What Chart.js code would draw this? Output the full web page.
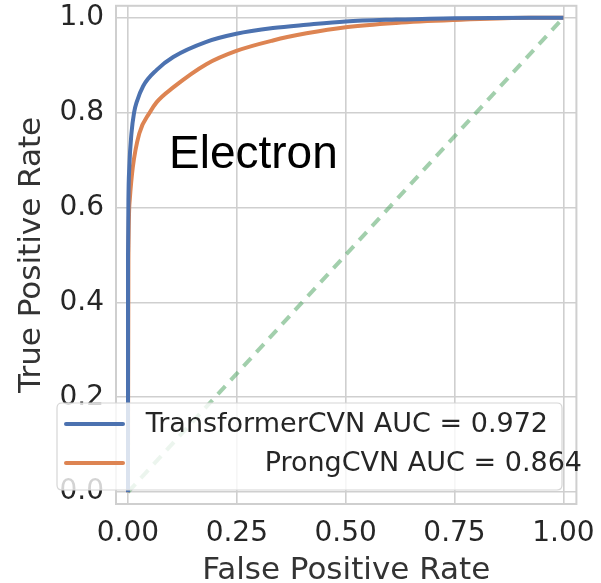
<!DOCTYPE html>
<html>
<head>
<meta charset="utf-8">
<script src="https://cdn.jsdelivr.net/npm/chart.js@4/dist/chart.umd.min.js"></script>
<style>
html,body{margin:0;padding:0;background:#fff;overflow:hidden;}
#wrap{width:601px;height:583px;position:relative;overflow:hidden;}
#c{position:absolute;left:0;top:-23px;}
</style>
</head>
<body>
<div id="wrap"><canvas id="c" width="608" height="606"></canvas></div>
<script>
// ---- data ----
const transformerFPR = [0, 0, 0.001, 0.003, 0.008, 0.014, 0.02, 0.035, 0.066, 0.104, 0.18, 0.249, 0.333, 0.41, 0.5, 0.616, 0.75, 1.0];
const transformerTPR = [0, 0.49, 0.615, 0.684, 0.756, 0.8, 0.822, 0.856, 0.89, 0.917, 0.949, 0.966, 0.978, 0.985, 0.992, 0.996, 0.999, 1.0];
const prongFPR = [0, 0.001, 0.004, 0.011, 0.026, 0.05, 0.066, 0.104, 0.18, 0.249, 0.333, 0.41, 0.5, 0.616, 0.75, 0.922, 1.0];
const prongTPR = [0, 0.488, 0.615, 0.684, 0.756, 0.8, 0.822, 0.853, 0.902, 0.930, 0.952, 0.967, 0.980, 0.989, 0.995, 1.0, 1.0];
const diagFPR = [0, 1];
const diagTPR = [0, 1];
const seriesLabels = ["TransformerCVN AUC = 0.972", "ProngCVN AUC = 0.864"];
const xTicks = [0, 0.25, 0.5, 0.75, 1.0];
const yTicks = [0, 0.2, 0.4, 0.6, 0.8, 1.0];
const annotationText = "Electron";

const toPts = (xs, ys) => xs.map((x, i) => ({x: x, y: ys[i]}));

const BLUE = '#4c72b0', ORANGE = '#dd8452', GREEN = 'rgba(85,168,104,0.55)';
const GRID = '#cfcfcf';
const OFF = 23; // canvas vertical offset (canvas y = page y + OFF)

const overlay = {
  id: 'overlay',
  afterDraw(chart) {
    const ctx = chart.ctx, a = chart.chartArea;
    ctx.save();
    // frame
    ctx.strokeStyle = GRID; ctx.lineWidth = 2;
    ctx.strokeRect(a.left, a.top, a.right - a.left, a.bottom - a.top);
    // annotation
    ctx.fillStyle = '#000';
    ctx.font = '46px "Liberation Sans", Arial, sans-serif';
    ctx.textAlign = 'left'; ctx.textBaseline = 'alphabetic';
    ctx.fillText(annotationText, 169, 168 + OFF);
    // legend box
    const bx = 57, by = 403 + OFF, bw = 505, bh = 87, r = 5;
    ctx.beginPath();
    ctx.moveTo(bx + r, by); ctx.lineTo(bx + bw - r, by); ctx.quadraticCurveTo(bx + bw, by, bx + bw, by + r);
    ctx.lineTo(bx + bw, by + bh - r); ctx.quadraticCurveTo(bx + bw, by + bh, bx + bw - r, by + bh);
    ctx.lineTo(bx + r, by + bh); ctx.quadraticCurveTo(bx, by + bh, bx, by + bh - r);
    ctx.lineTo(bx, by + r); ctx.quadraticCurveTo(bx, by, bx + r, by);
    ctx.closePath();
    ctx.fillStyle = 'rgba(255,255,255,0.8)'; ctx.fill();
    ctx.strokeStyle = '#d6d6d6'; ctx.lineWidth = 1.2; ctx.stroke();
    // legend entries
    const ds = chart.data.datasets;
    const rows = [{y: 424 + OFF, right: 548}, {y: 463 + OFF, right: 582}];
    ctx.font = '27px "DejaVu Sans", sans-serif';
    ctx.textAlign = 'right'; ctx.textBaseline = 'middle';
    rows.forEach((row, i) => {
      ctx.strokeStyle = ds[i].borderColor; ctx.lineWidth = 4; ctx.lineCap = 'round';
      ctx.beginPath(); ctx.moveTo(66, row.y); ctx.lineTo(123, row.y); ctx.stroke();
      ctx.fillStyle = '#262626';
      ctx.fillText(ds[i].label, row.right, row.y + 1);
    });
    ctx.restore();
  }
};

new Chart(document.getElementById('c'), {
  type: 'line',
  data: {
    datasets: [
      {label: seriesLabels[0], data: toPts(transformerFPR, transformerTPR), borderColor: BLUE, borderWidth: 4, pointRadius: 0, cubicInterpolationMode: 'monotone', fill: false},
      {label: seriesLabels[1], data: toPts(prongFPR, prongTPR), borderColor: ORANGE, borderWidth: 4, pointRadius: 0, cubicInterpolationMode: 'monotone', fill: false},
      {label: 'diag', data: toPts(diagFPR, diagTPR), borderColor: GREEN, borderWidth: 4, borderDash: [11, 8], pointRadius: 0, fill: false}
    ]
  },
  options: {
    responsive: false,
    animation: false,
    layout: {padding: {top: 5, right: 17, left: 0, bottom: 0}},
    plugins: {legend: {display: false}, tooltip: {enabled: false}},
    scales: {
      x: {
        type: 'linear', min: -0.0275, max: 1.03,
        afterBuildTicks: s => { s.ticks = xTicks.map(v => ({value: v})); },
        afterFit: s => { s.height = 79; },
        grid: {color: GRID, lineWidth: 1.6, drawTicks: false},
        border: {display: false},
        ticks: {color: '#262626', font: {family: 'DejaVu Sans', size: 28}, padding: 13, maxRotation: 0,
                callback: v => v.toFixed(2)},
        title: {display: true, text: 'False Positive Rate', color: '#333', font: {family: 'DejaVu Sans', size: 31}, padding: {top: 6, bottom: -7}}
      },
      y: {
        type: 'linear', min: -0.025, max: 1.025,
        afterBuildTicks: s => { s.ticks = yTicks.map(v => ({value: v})); },
        afterFit: s => { s.width = 116; },
        grid: {color: GRID, lineWidth: 1.6, drawTicks: false},
        border: {display: false},
        ticks: {color: '#262626', font: {family: 'DejaVu Sans', size: 28}, padding: 12,
                callback: v => v.toFixed(1)},
        title: {display: true, text: 'True Positive Rate', color: '#333', font: {family: 'DejaVu Sans', size: 31}, padding: {top: 13, bottom: 0}}
      }
    }
  },
  plugins: [overlay]
});
</script>
</body>
</html>
